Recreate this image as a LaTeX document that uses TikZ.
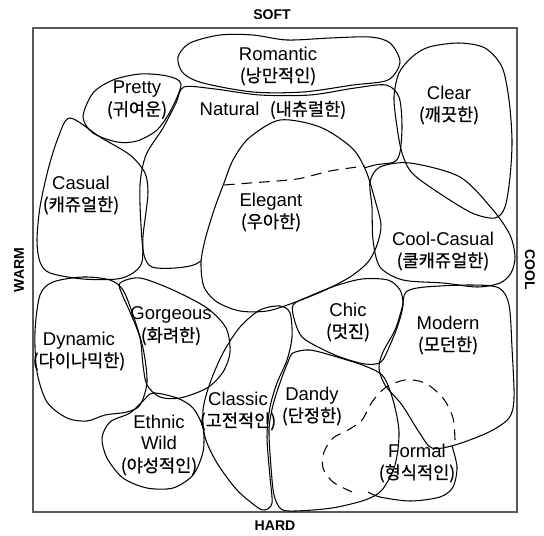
\documentclass[tikz,border=0pt]{standalone}
\usepackage{fontspec}
\setmainfont{Liberation Sans}
\newfontfamily\krfont[FakeBold=0.6]{Noto Sans CJK KR}
\newcommand{\kr}[1]{{\krfont\fontsize{15}{18.7}\selectfont #1}}

\begin{document}
\begin{tikzpicture}[x=0.03cm,y=-0.03cm,
    blob/.style={line width=0.9pt,line join=round},
    dashline/.style={blob,dash pattern=on 9pt off 6pt},
    lbl/.style={align=center,inner sep=0pt,font=\fontsize{15.8}{18.7}\selectfont},
    axis/.style={inner sep=0pt,font=\bfseries\fontsize{12}{14}\selectfont}]
                \useasboundingbox (0,0) rectangle (544,535);
                \draw [line width=1.5pt,black!65] (33,28) rectangle (517,512);
                % soft side
                \draw [blob] plot [smooth cycle] coordinates {(178,57) (190,43) (220,35) (253,35) (287,40) (330,38) (370,37) (390,43) (400,62) (388,80) (353,85) (303,92) (253,92) (203,83) (183,73)};
                \draw [blob] plot [smooth cycle] coordinates {(83,117) (93,93) (113,80) (140,74) (167,76) (181,84) (171,110) (157,130) (137,141) (117,142) (93,133)};
                \draw [blob] plot [smooth cycle] coordinates {(184,87) (215,89) (260,95) (310,95) (355,88) (386,85) (399,97) (402,125) (400,152) (394,162) (375,165) (350,172) (300,185) (255,200) (225,225) (212,250) (196,264) (175,268) (152,267) (144,255) (141,225) (140,185) (146,155) (163,128) (176,103)};
                \draw [blob,fill=white] plot [smooth cycle] coordinates {(280,120) (320,127) (352,148) (366,171) (375,200) (381,225) (377,245) (368,262) (350,277) (323,291) (293,303) (267,311) (240,311) (217,302) (204,287) (201,263) (205,240) (214,210) (224,183) (233,160) (249,138)};
                \draw [dashline] plot [smooth] coordinates {(224,185) (250,183) (297,179) (330,171) (365,166)};
                \draw [blob] plot [smooth cycle] coordinates {(412,57) (429,47) (459,43) (485,48) (502,67) (509,100) (512,140) (510,177) (505,207) (495,218) (472,213) (439,193) (412,173) (402,153) (397,127) (394,97) (399,73)};
                \draw [blob] plot [smooth cycle] coordinates {(70,118) (100,137) (130,155) (145,173) (148,192) (146,212) (143,236) (142,262) (133,273) (117,279) (83,279) (50,273) (40,262) (37,240) (40,207) (48,170) (58,138)};
                \draw [blob] plot [smooth cycle] coordinates {(380,167) (410,163) (460,177) (493,210) (510,235) (515,257) (511,273) (500,283) (477,287) (443,283) (403,280) (380,267) (373,240) (372,207) (370,182)};
                % hard side
                \draw [blob] plot [smooth cycle] coordinates {(40,295) (53,282) (83,277) (110,280) (123,290) (133,315) (143,348) (147,382) (140,405) (127,412) (105,415) (87,421) (67,418) (47,402) (37,372) (35,332)};
                \draw [blob] plot [smooth cycle] coordinates {(120,283) (140,278) (173,290) (207,308) (226,328) (230,352) (223,372) (207,388) (180,398) (160,397) (147,385) (143,365) (140,338) (130,312) (122,294)};
                \draw [blob] plot [smooth cycle] coordinates {(153,393) (177,398) (193,408) (203,428) (203,452) (193,475) (173,488) (147,488) (123,478) (107,458) (102,438) (110,422) (130,413) (143,401)};
                \draw [blob] plot [smooth cycle] coordinates {(260,310) (280,306) (290,313) (292,337) (287,360) (277,383) (270,407) (267,437) (270,477) (272,503) (265,510) (257,507) (237,490) (217,463) (205,437) (203,410) (210,383) (223,353) (240,327)};
                \draw [blob] plot [smooth cycle] coordinates {(293,305) (310,296) (335,286) (362,279) (388,280) (400,290) (403,305) (398,325) (390,345) (381,362) (365,364) (340,357) (318,347) (302,337) (295,322)};
                \draw [blob] plot [smooth cycle] coordinates {(406,292) (425,287) (472,285) (499,288) (509,305) (512,348) (514,398) (509,418) (489,432) (455,445) (432,448) (419,432) (402,405) (385,385) (379,368) (383,352) (395,330) (402,308)};
                \draw [blob] plot [smooth cycle] coordinates {(293,353) (310,350) (337,357) (365,366) (383,376) (393,400) (399,432) (395,465) (382,490) (365,500) (332,508) (295,511) (281,509) (274,495) (271,467) (269,430) (273,405) (281,380) (288,362)};
                \draw [blob] plot [smooth] coordinates {(452,446) (457,467) (453,487) (440,497) (410,501) (380,497) (368,492)};
                \draw [dashline] plot [smooth] coordinates {(455,440) (453,418) (443,398) (425,383) (405,380) (385,388) (372,402) (362,420) (348,430) (333,438) (324,452) (323,468) (333,482) (352,492)};
                % labels
                \node [lbl] (romantic) at (278,66) {Romantic\\\kr{(낭만적인)}};
                \node [lbl] (pretty) at (137,100) {Pretty\\\kr{(귀여운)}};
                \node [lbl] (natural) at (273,110) {Natural~~\kr{(내츄럴한)}};
                \node [lbl] (clear) at (449,105) {Clear\\\kr{(깨끗한)}};
                \node [lbl] (casual) at (81,195) {Casual\\\kr{(캐쥬얼한)}};
                \node [lbl] (elegant) at (271,212) {Elegant\\\kr{(우아한)}};
                \node [lbl] (coolcasual) at (443,251) {Cool-Casual\\\kr{(쿨캐쥬얼한)}};
                \node [lbl] (gorgeous) at (171,326) {Gorgeous\\\kr{(화려한)}};
                \node [lbl] (dynamic) at (79,351) {Dynamic\\\kr{(다이나믹한)}};
                \node [lbl] (chic) at (348,322) {Chic\\\kr{(멋진)}};
                \node [lbl] (modern) at (448,335) {Modern\\\kr{(모던한)}};
                \node [lbl] (dandy) at (312,406) {Dandy\\\kr{(단정한)}};
                \node [lbl] (classic) at (238,411) {Classic\\\kr{(고전적인)}};
                \node [lbl] (ethnic) at (159,445) {Ethnic\\Wild\\\kr{(야성적인)}};
                \node [lbl] (formal) at (417,463) {Formal\\\kr{(형식적인)}};
                \node [axis] (soft) at (272,15) {SOFT};
                \node [axis] (hard) at (275,526) {HARD};
                \node [axis,rotate=90] (warm) at (19,270) {WARM};
                \node [axis,rotate=-90] (cool) at (530,270) {COOL};
            \end{tikzpicture}
\end{document}
